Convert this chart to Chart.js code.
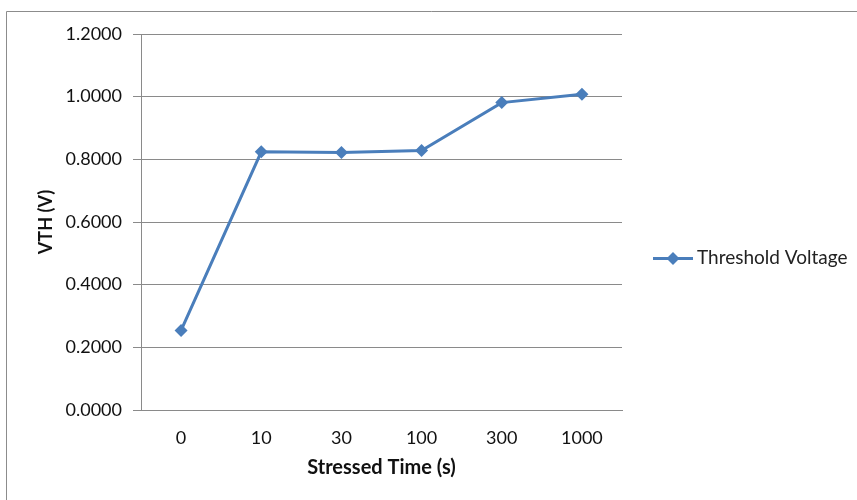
<!DOCTYPE html>
<html>
<head>
<meta charset="utf-8">
<script src="https://cdn.jsdelivr.net/npm/chart.js@4/dist/chart.umd.min.js"></script>
<style>
  html, body { margin: 0; padding: 0; background: #fff; }
  #wrap { width: 857px; height: 500px; position: relative; }
</style>
</head>
<body>
<div id="wrap"><canvas id="c" width="857" height="500"></canvas></div>
<script>
// ---- data ----
const categories = ['0', '10', '30', '100', '300', '1000'];
const thresholdVoltage = [0.254, 0.824, 0.822, 0.828, 0.981, 1.008];
const seriesName = 'Threshold Voltage';
const xTitle = 'Stressed Time (s)';
const yTitle = 'VTH (V)';
const yMin = 0, yMax = 1.2, yStep = 0.2;

const FONT = 'Lato, "Open Sans", sans-serif';
const BLUE = '#4a7ebb';
const GRID = '#8a8a8a';

const frame = {
  id: 'frame',
  beforeDraw(chart) {
    const ctx = chart.ctx;
    ctx.save();
    ctx.fillStyle = '#fff';
    ctx.fillRect(0, 0, chart.width, chart.height);
    ctx.strokeStyle = '#8c8c8c';
    ctx.lineWidth = 1;
    ctx.beginPath();
    ctx.moveTo(6.5, chart.height);
    ctx.lineTo(6.5, 11.5);
    ctx.lineTo(chart.width, 11.5);
    ctx.stroke();
    ctx.restore();
  }
};

// legend drawn to the right of the plot area, vertically centred on the plot
const sideLegend = {
  id: 'sideLegend',
  afterDraw(chart) {
    const ctx = chart.ctx;
    const ds = chart.data.datasets[0];
    const area = chart.chartArea;
    const x0 = area.right + 31;
    const y = Math.round((area.top + area.bottom) / 2) + 36;
    ctx.save();
    ctx.strokeStyle = ds.borderColor;
    ctx.lineWidth = 3;
    ctx.beginPath();
    ctx.moveTo(x0, y + 0.5);
    ctx.lineTo(x0 + 40, y + 0.5);
    ctx.stroke();
    ctx.fillStyle = ds.borderColor;
    ctx.beginPath();
    ctx.moveTo(x0 + 20, y - 6);
    ctx.lineTo(x0 + 26.5, y + 0.5);
    ctx.lineTo(x0 + 20, y + 7);
    ctx.lineTo(x0 + 13.5, y + 0.5);
    ctx.closePath();
    ctx.fill();
    ctx.fillStyle = '#222';
    ctx.font = '19px ' + FONT;
    ctx.textBaseline = 'middle';
    ctx.textAlign = 'left';
    ctx.fillText(ds.label, x0 + 44, y);
    ctx.restore();
  }
};

new Chart(document.getElementById('c'), {
  type: 'line',
  data: {
    labels: categories,
    datasets: [{
      label: seriesName,
      data: thresholdVoltage,
      borderColor: BLUE,
      backgroundColor: BLUE,
      borderWidth: 3,
      pointStyle: 'rectRot',
      pointRadius: 6.5,
      pointHoverRadius: 6.5,
      pointBackgroundColor: BLUE,
      pointBorderColor: BLUE,
      pointBorderWidth: 0,
      tension: 0,
      fill: false
    }]
  },
  options: {
    responsive: false,
    animation: false,
    devicePixelRatio: 1,
    layout: { padding: { top: 34, right: 235, bottom: 0, left: 0 } },
    plugins: {
      tooltip: { enabled: false },
      legend: { display: false }
    },
    scales: {
      x: {
        type: 'category',
        offset: true,
        grid: { display: false, drawTicks: false },
        border: { display: true, color: GRID, width: 1 },
        ticks: { color: '#111', font: { family: FONT, size: 18 }, padding: 17, maxRotation: 0 },
        title: {
          display: true, text: xTitle, color: '#111',
          font: { family: FONT, size: 20, weight: 'bold' },
          padding: { top: 0, bottom: 20 }
        },
        afterFit(scale) { scale.height = 90; }
      },
      y: {
        min: yMin, max: yMax,
        grid: { color: GRID, lineWidth: 1, tickLength: 8, drawTicks: true },
        border: { display: true, color: GRID, width: 1 },
        ticks: {
          stepSize: yStep, color: '#111', padding: 11,
          font: { family: FONT, size: 18 },
          callback: v => Number(v).toFixed(4)
        },
        title: {
          display: true, text: yTitle, color: '#111',
          font: { family: FONT, size: 18, weight: 'bold' },
          padding: { top: 35, bottom: 0 }
        },
        afterFit(scale) { scale.width = 141; }
      }
    }
  },
  plugins: [frame, sideLegend]
});
</script>
</body>
</html>
